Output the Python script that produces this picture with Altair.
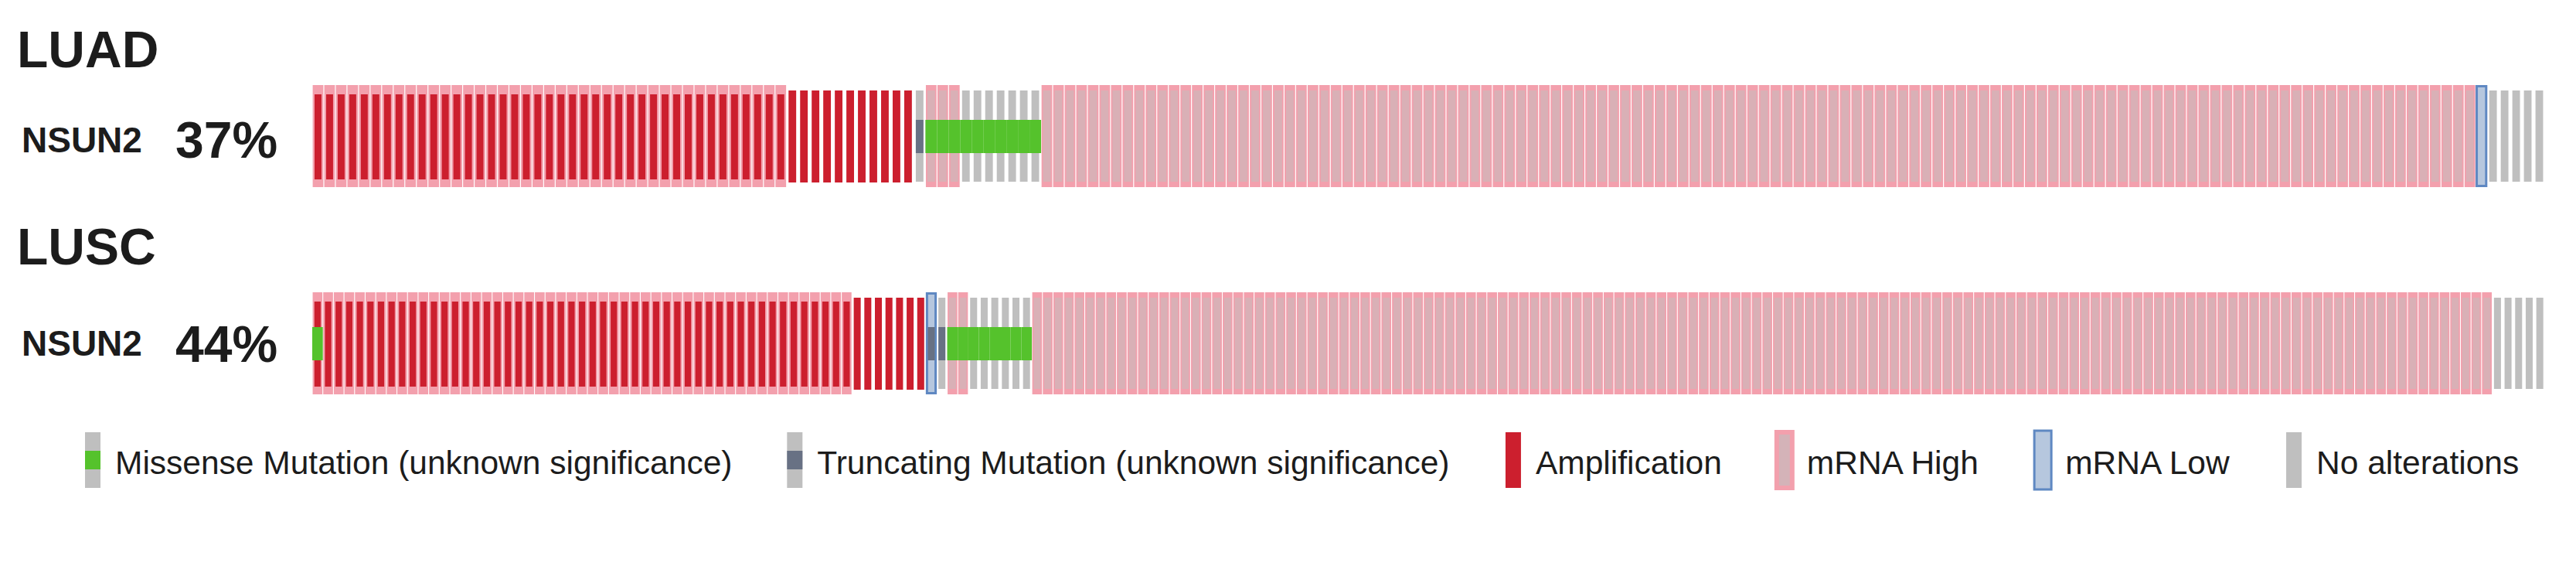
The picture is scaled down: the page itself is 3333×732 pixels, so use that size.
import altair as alt
import pandas as pd

# ---------------- data ----------------
cancers = ["LUAD", "LUSC"]
gene = "NSUN2"
altered_pct = ["37%", "44%"]

# run-length encoded samples (left to right) per cancer type
luad_counts = [41, 11, 1, 3, 7, 124, 1, 5]
luad_states = ["AMP+HIGH", "AMP", "TRUNC", "HIGH+MISSENSE", "MISSENSE", "HIGH", "LOW", "NONE"]
lusc_counts = [1, 50, 7, 1, 1, 2, 6, 138, 5]
lusc_states = ["AMP+HIGH+MISSENSE", "AMP+HIGH", "AMP", "LOW+TRUNC", "TRUNC",
               "HIGH+MISSENSE", "MISSENSE", "HIGH", "NONE"]

legend_labels = ["Missense Mutation (unknown significance)",
                 "Truncating Mutation (unknown significance)",
                 "Amplification", "mRNA High", "mRNA Low", "No alterations"]
legend_kinds = ["MISSENSE", "TRUNC", "AMP", "HIGH", "LOW", "NONE"]

# ---------------- styles ----------------
FONT = "Liberation Sans, Arial, Helvetica, sans-serif"
TXT = "#1c1c1c"
GRAY = "#bfbfbf"
RED = "#cc1f2e"
PINK = "#f3a0ad"
GREEN = "#55c22c"
TRUNC = "#687184"
BLUE = "#5f88c2"
BLUE_FILL = "#b6c7de"

W, H = 2889, 530


def expand(counts, states):
    rows, k = [], 0
    for c, s in zip(counts, states):
        parts = s.split("+")
        for _ in range(c):
            rows.append(dict(
                k=k,
                cna="AMP" if "AMP" in parts else "",
                mrna="HIGH" if "HIGH" in parts else ("LOW" if "LOW" in parts else ""),
                mut="MISSENSE" if "MISSENSE" in parts else ("TRUNC" if "TRUNC" in parts else ""),
            ))
            k += 1
    df = pd.DataFrame(rows)
    df["n"] = k
    return df


XS = alt.Scale(domain=[0, 1], nice=False, zero=False)


def cells(df, filt, a, b, y0, y1, **mark):
    return (alt.Chart(df)
            .transform_filter(filt)
            .transform_calculate(x0=f"(datum.k + {a}) / datum.n",
                                 x1=f"(datum.k + {b}) / datum.n")
            .mark_rect(**mark)
            .encode(x=alt.X("x0:Q", scale=XS, axis=None), x2="x1:Q",
                    y=alt.value(y0), y2=alt.value(y1)))


def text_layer(txt, x, y, size, weight="bold"):
    return (alt.Chart(pd.DataFrame({"t": [txt]}))
            .mark_text(align="left", baseline="alphabetic", font=FONT,
                       fontSize=size, fontWeight=weight, color=TXT)
            .encode(x=alt.value(x), y=alt.value(y), text="t:N"))


# layout of each track (pixels relative to plot top)
row_tops = [0, 268]
title_dy = [-23, -36]
gene_dy = [87, 82]
pct_dy = [94, 90]

layers = []
for cancer, pct, top, tdy, gdy, pdy, (cnts, sts) in zip(
        cancers, altered_pct, row_tops, title_dy, gene_dy, pct_dy,
        [(luad_counts, luad_states), (lusc_counts, lusc_states)]):
    df = expand(cnts, sts)
    layers += [
        cells(df, "datum.mrna == 'HIGH'", 0.04, 0.96, top, top + 132, color=PINK),
        cells(df, "datum.mrna == 'LOW'", 0.09, 0.91, top + 1.5, top + 130.5,
              color=BLUE_FILL, stroke=BLUE, strokeWidth=3),
        cells(df, "datum.cna != 'AMP' && datum.mrna == ''", 0.17, 0.83, top + 7, top + 125, color=GRAY),
        cells(df, "datum.cna != 'AMP' && datum.mrna == 'HIGH'", 0.17, 0.83, top + 7, top + 125,
              color=GRAY, opacity=0.5),
        cells(df, "datum.cna == 'AMP' && datum.mrna != 'HIGH'", 0.17, 0.83, top + 7, top + 126, color=RED),
        cells(df, "datum.cna == 'AMP' && datum.mrna == 'HIGH'", 0.2, 0.8, top + 12, top + 122, color=RED),
        cells(df, "datum.mut == 'MISSENSE'", 0.0, 1.0, top + 45, top + 88, color=GREEN),
        cells(df, "datum.mut == 'TRUNC'", 0.17, 0.83, top + 45, top + 88, color=TRUNC),
        text_layer(cancer, -382, top + tdy, 66),
        text_layer(gene, -376, top + gdy, 46),
        text_layer(pct, -177, top + pdy, 66),
    ]

# ---------------- legend ----------------
CHAR_W = {" ": 278, "(": 333, ")": 333, "A": 667, "H": 722, "L": 556, "M": 833, "N": 722,
          "R": 722, "T": 611, "a": 556, "c": 500, "e": 556, "f": 278, "g": 556, "h": 556,
          "i": 222, "k": 500, "l": 222, "m": 833, "n": 556, "o": 556, "p": 556, "r": 333,
          "s": 500, "t": 278, "u": 556, "w": 722}
LFS = 42.5


def text_w(s):
    return sum(CHAR_W.get(ch, 556) for ch in s) * LFS / 1000.0


ly0, ly1 = 449, 521
gx = -294
for label, kind in zip(legend_labels, legend_kinds):
    one = pd.DataFrame({"t": [label]})
    def glyph(x0, x1, y0, y1, **mark):
        return (alt.Chart(one).mark_rect(**mark)
                .encode(x=alt.value(x0), x2=alt.value(x1), y=alt.value(y0), y2=alt.value(y1)))
    if kind == "HIGH":
        layers.append(glyph(gx - 3, gx + 23, ly0 - 3, ly1 + 3, color=PINK))
        layers.append(glyph(gx + 3, gx + 17, ly0 + 3, ly1 - 3, color=GRAY, opacity=0.6))
    elif kind == "LOW":
        layers.append(glyph(gx - 1, gx + 21, ly0 - 2, ly1 + 2, color=BLUE_FILL, stroke=BLUE, strokeWidth=3))
    elif kind == "AMP":
        layers.append(glyph(gx, gx + 20, ly0, ly1, color=RED))
    else:
        layers.append(glyph(gx, gx + 20, ly0, ly1, color=GRAY))
        if kind == "MISSENSE":
            layers.append(glyph(gx, gx + 20, ly0 + 24, ly1 - 24, color=GREEN))
        elif kind == "TRUNC":
            layers.append(glyph(gx, gx + 20, ly0 + 24, ly1 - 24, color=TRUNC))
    layers.append(
        alt.Chart(one).mark_text(align="left", baseline="alphabetic", font=FONT,
                                 fontSize=LFS, color=TXT)
        .encode(x=alt.value(gx + 39), y=alt.value(503), text="t:N"))
    gx = gx + 39 + text_w(label) + 71

chart = (alt.layer(*layers)
         .properties(width=W, height=H,
                     autosize=alt.AutoSizeParams(type="none"),
                     padding={"left": 396, "top": 102, "right": 30, "bottom": 80},
                     background="white")
         .configure_view(strokeWidth=0))

chart.save("out.html", embed_options={"renderer": "svg", "actions": False})
